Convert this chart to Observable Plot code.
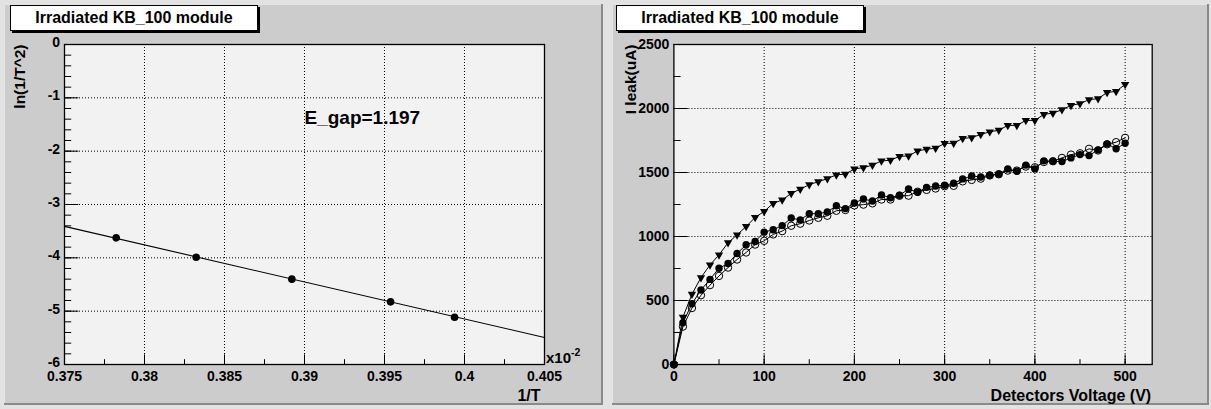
<!DOCTYPE html>
<html>
<head>
<meta charset="utf-8">
<script src="https://cdn.jsdelivr.net/npm/d3@7"></script>
<script src="https://cdn.jsdelivr.net/npm/@observablehq/plot@0.6"></script>
<style>
  html, body { margin: 0; padding: 0; }
  body {
    width: 1211px; height: 409px; position: relative; overflow: hidden;
    background: #e2e2e2;
    font-family: "Liberation Sans", Arial, Helvetica, sans-serif; font-weight: bold;
  }
  .pad {
    position: absolute; background: #cccccc;
    box-shadow: inset -2px -2px 0 #8a8a8a, inset 1px 1px 0 #e4e4e4;
  }
  .pad svg { position: absolute; left: 0; top: 0; }
  .title {
    position: absolute; box-sizing: border-box; height: 26px; width: 248px;
    background: #ffffff; border: 1px solid #000;
    box-shadow: 2px 2px 0 #000;
    font-size: 16px; line-height: 24px; text-align: center; color: #000;
  }
</style>
</head>
<body>
<div id="padL" class="pad" style="left:4px; top:4px; width:599px; height:401px;"></div>
<div id="padR" class="pad" style="left:612px; top:4px; width:597px; height:401px;"></div>
<div class="title" style="left:10px; top:5px;">Irradiated KB_100 module</div>
<div class="title" style="left:616px; top:5px;">Irradiated KB_100 module</div>
<script>
// ---------- Left chart data: ln(1/T^2) vs 1/T (x in units of 1e-2) ----------
const invT = [0.37823, 0.38323, 0.38921, 0.39538, 0.39938];
const lnInvT2 = [-3.625, -3.988, -4.400, -4.825, -5.113];
const fitSlope = -69.46;       // fitted slope
const fitRefX = 0.375;         // reference point of the fitted line
const fitRefY = -3.41;
const egapText = "E_gap=1.197";
const leftXTicks = [0.375, 0.38, 0.385, 0.39, 0.395, 0.4, 0.405];
const leftYTicks = [0, -1, -2, -3, -4, -5, -6];
const leftXTitle = "1/T";
const leftYTitle = "ln(1/T^2)";

// ---------- Right chart data: leakage current vs detector voltage ----------
const voltage = [0,10,20,30,40,50,60,70,80,90,100,110,120,130,140,150,160,170,180,190,200,
  210,220,230,240,250,260,270,280,290,300,310,320,330,340,350,360,370,380,390,400,
  410,420,430,440,450,460,470,480,490,500];
const ileakTriangle = [0,370,549,679,778,857,951,1013,1078,1149,1196,1259,1285,1337,1370,1405,1428,1452,1482,1487,1528,
  1538,1558,1590,1596,1626,1630,1668,1682,1690,1727,1729,1766,1773,1797,1818,1830,1868,1868,1907,1907,
  1954,1964,1990,2024,2038,2069,2077,2125,2134,2188];
const ileakFilled = [0,326,475,582,665,752,789,867,935,961,1034,1053,1085,1144,1130,1178,1178,1192,1240,1218,1262,
  1293,1277,1324,1303,1322,1371,1346,1384,1394,1401,1416,1450,1473,1465,1478,1488,1528,1510,1558,1528,
  1591,1588,1585,1614,1640,1632,1677,1724,1685,1729];
const ileakOpen = [0,296,441,541,620,692,757,820,875,937,966,1016,1042,1084,1100,1125,1146,1162,1201,1207,1243,
  1249,1259,1289,1289,1318,1319,1350,1364,1375,1393,1396,1431,1442,1452,1477,1486,1515,1515,1546,1541,
  1582,1588,1614,1640,1650,1685,1672,1720,1737,1771];
const rightXTicks = [0, 100, 200, 300, 400, 500];
const rightYTicks = [0, 500, 1000, 1500, 2000, 2500];
const rightXTitle = "Detectors Voltage (V)";
const rightYTitle = "I leak(uA)";

const FONT = {fontFamily: "'Liberation Sans', Arial, Helvetica, sans-serif", fontWeight: "bold", fontSize: "14px", color: "#000", background: "transparent", overflow: "visible"};
const GRID = {stroke: "#000", strokeOpacity: 1, strokeWidth: 1, strokeDasharray: "1,2"};
const fmt = d => String(d);

// ---------------- Left plot ----------------
const lxDom = [leftXTicks[0], leftXTicks[leftXTicks.length - 1]];
const lyDom = [leftYTicks[leftYTicks.length - 1], leftYTicks[0]];
const leftPts = invT.map((x, i) => ({x, y: lnInvT2[i]}));
const fitPts = lxDom.map(x => ({x, y: fitRefY + fitSlope * (x - fitRefX)}));
const lxMinor = d3.range(lxDom[0], lxDom[1] + 1e-9, 0.0025);
const lyMinor = d3.range(lyDom[0], lyDom[1] + 1e-9, 0.2);

const left = Plot.plot({
  width: 599, height: 401,
  marginLeft: 60, marginRight: 59, marginTop: 40, marginBottom: 41,
  style: FONT,
  x: {domain: lxDom, label: null},
  y: {domain: lyDom, label: null},
  marks: [
    Plot.frame({fill: "#f2f2f2", stroke: null}),
    Plot.gridX(leftXTicks.slice(1, -1), GRID),
    Plot.gridY(leftYTicks.slice(1, -1), GRID),
    Plot.axisX(lxMinor, {tickSize: -4.8, fill: "none", label: null}),
    Plot.axisY(lyMinor, {tickSize: -7.2, fill: "none", label: null}),
    Plot.axisX(leftXTicks, {tickSize: -9.6, tickPadding: 16.6, tickFormat: fmt, label: null}),
    Plot.axisY(leftYTicks, {tickSize: -14.4, fill: "none", label: null}),
    Plot.axisY(leftYTicks, {tickSize: 0, tickPadding: 4.4, stroke: "none", tickFormat: fmt, label: null, dy: -2}),
    Plot.line(fitPts, {x: "x", y: "y", stroke: "#000", strokeWidth: 1.1}),
    Plot.dot(leftPts, {x: "x", y: "y", r: 3.8, fill: "#000", stroke: null}),
    Plot.text([egapText], {x: 0.3900, y: -1.37, text: d => d, textAnchor: "start", fontSize: 19, fontWeight: "bold"}),
    Plot.text([leftXTitle], {frameAnchor: "bottom-right", text: d => d, textAnchor: "end", lineAnchor: "bottom", dx: -4, dy: 36, fontSize: 16}),
    Plot.text([leftYTitle], {frameAnchor: "top-left", text: d => d, rotate: -90, textAnchor: "end", lineAnchor: "middle", dx: -44, dy: 0, fontSize: 15.5}),
    Plot.frame({stroke: "#000", strokeWidth: 1.3})
  ]
});
document.getElementById("padL").appendChild(left);
{
  const sx = left.scale("x"), sy = left.scale("y");
  const t = d3.select(left).append("text")
    .attr("x", sx.apply(lxDom[1]) + 2).attr("y", sy.apply(lyDom[0]) - 1)
    .attr("text-anchor", "start")
    .attr("font-size", 15).attr("font-weight", "bold").attr("fill", "#000");
  t.append("tspan").text("x10");
  t.append("tspan").attr("font-size", 10.5).attr("dy", -7).text("-2");
}

// ---------------- Right plot ----------------
const rxDom = [0, 530];
const ryDom = [rightYTicks[0], rightYTicks[rightYTicks.length - 1]];
const serT = voltage.map((v, i) => ({v, i: ileakTriangle[i]}));
const serF = voltage.map((v, i) => ({v, i: ileakFilled[i]}));
const serO = voltage.map((v, i) => ({v, i: ileakOpen[i]}));
const rxMinor = d3.range(0, rxDom[1], 50);
const ryMinor = d3.range(0, ryDom[1] + 1, 250);

const right = Plot.plot({
  width: 597, height: 401,
  marginLeft: 61.4, marginRight: 57.3, marginTop: 40, marginBottom: 41,
  style: FONT,
  x: {domain: rxDom, label: null},
  y: {domain: ryDom, label: null},
  marks: [
    Plot.frame({fill: "#f2f2f2", stroke: null}),
    Plot.gridX(rightXTicks.slice(1), GRID),
    Plot.gridY(rightYTicks.slice(1, -1), GRID),
    Plot.axisX(rxMinor, {tickSize: -4.8, fill: "none", label: null}),
    Plot.axisY(ryMinor, {tickSize: -7.2, fill: "none", label: null}),
    Plot.axisX(rightXTicks, {tickSize: -9.6, tickPadding: 16.6, tickFormat: fmt, label: null}),
    Plot.axisY(rightYTicks, {tickSize: -14.4, tickPadding: 19, tickFormat: fmt, label: null}),
    Plot.line(serT, {x: "v", y: "i", stroke: "#000", strokeWidth: 1}),
    Plot.line(serF, {x: "v", y: "i", stroke: "#000", strokeWidth: 1}),
    Plot.line(serO, {x: "v", y: "i", stroke: "#000", strokeWidth: 1}),
    Plot.dot(serO, {x: "v", y: "i", r: 3.7, fill: "none", stroke: "#000", strokeWidth: 1}),
    Plot.dot(serF, {x: "v", y: "i", r: 3.7, fill: "#000", stroke: null}),
    Plot.dot(serT, {x: "v", y: "i", symbol: "triangle", rotate: 180, r: 3.1, fill: "#000", stroke: null}),
    Plot.text([rightXTitle], {frameAnchor: "bottom-right", text: d => d, textAnchor: "end", lineAnchor: "bottom", dx: -1, dy: 36, fontSize: 16}),
    Plot.text([rightYTitle], {frameAnchor: "top-left", text: d => d, rotate: -90, textAnchor: "end", lineAnchor: "middle", dx: -43, dy: 0, fontSize: 15.5}),
    Plot.frame({stroke: "#000", strokeWidth: 1.3})
  ]
});
document.getElementById("padR").appendChild(right);
</script>
</body>
</html>
